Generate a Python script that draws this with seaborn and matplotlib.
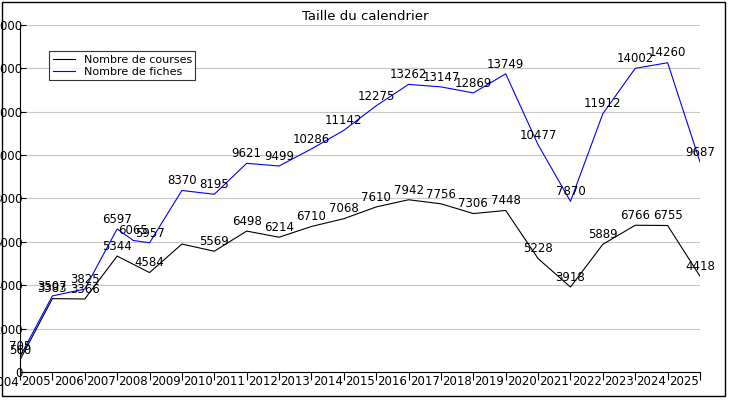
import matplotlib
matplotlib.use("Agg")
import matplotlib.pyplot as plt
import seaborn as sns
import pandas as pd
from matplotlib.ticker import FixedLocator

years = [str(y) for y in range(2004, 2026)]
fiches_x = [0, 1, 2, 3, 3.5, 4, 5, 6, 7, 8, 9, 10, 11, 12, 13, 14, 15, 16, 17, 18, 19, 20, 21]
fiches = [705, 3507, 3825, 6597, 6065, 5957, 8370, 8195, 9621, 9499, 10286, 11142,
          12275, 13262, 13147, 12869, 13749, 10477, 7870, 11912, 14002, 14260, 9687]
courses_x = list(range(22))
courses = [560, 3383, 3366, 5344, 4584, 5900, 5569, 6498, 6214, 6710, 7068, 7610,
           7942, 7756, 7306, 7448, 5228, 3918, 5889, 6766, 6755, 4418]

fig = plt.figure(figsize=(7.3, 4), dpi=100)
ax = fig.add_axes([20/730, 28/400, 680/730, 347/400])
dc = pd.DataFrame({"x": courses_x, "y": courses})
df = pd.DataFrame({"x": fiches_x, "y": fiches})
sns.lineplot(data=dc, x="x", y="y", ax=ax, color="black", lw=0.8, label="Nombre de courses")
sns.lineplot(data=df, x="x", y="y", ax=ax, color="blue", lw=0.8, label="Nombre de fiches")
for x, y in zip(courses_x, courses):
    if x == 5:
        continue
    ax.text(x, y + 150, str(y), ha="center", va="bottom", fontsize=8.5, color="black")
for x, y in zip(fiches_x, fiches):
    ax.text(x, y + 150, str(y), ha="center", va="bottom", fontsize=8.5, color="black")

ax.set_xlim(0, 21)
ax.set_ylim(0, 16000)
ax.set_yticks(range(0, 16001, 2000))
ax.yaxis.grid(True, color="#c8c8c8", lw=0.8)
ax.set_xticks(range(22))
ax.set_xticklabels([])
ax.xaxis.set_minor_locator(FixedLocator([i - 0.5 for i in range(1, 22)]))
ax.set_xticklabels(years[1:], minor=True, fontsize=8.5)
ax.text(-0.5, -0.012, years[0], transform=ax.get_xaxis_transform(), ha="center",
        va="top", fontsize=8.5, clip_on=False)
ax.tick_params(axis="x", which="major", length=6, direction="out")
ax.tick_params(axis="x", which="minor", length=0, pad=2)
ax.tick_params(axis="y", labelsize=8.5, length=4, direction="in", pad=-2)
for lab in ax.get_yticklabels():
    lab.set_horizontalalignment("right")
ax.set_xlabel("")
ax.set_ylabel("")
for s in ["top", "right"]:
    ax.spines[s].set_visible(False)
leg = ax.legend(loc="upper left", bbox_to_anchor=(0.035, 0.94), fontsize=8,
                frameon=True, fancybox=False, edgecolor="black", borderpad=0.3,
                handlelength=2, labelspacing=0.2)
leg.get_frame().set_linewidth(0.8)
fig.text(0.5, 0.975, "Taille du calendrier", ha="center", va="top", fontsize=9.5)
fig.patches.append(plt.Rectangle((0.003, 0.01), 0.99, 0.985, transform=fig.transFigure,
                                 fill=False, edgecolor="black", lw=1))
fig.savefig("out.png", dpi=100)
